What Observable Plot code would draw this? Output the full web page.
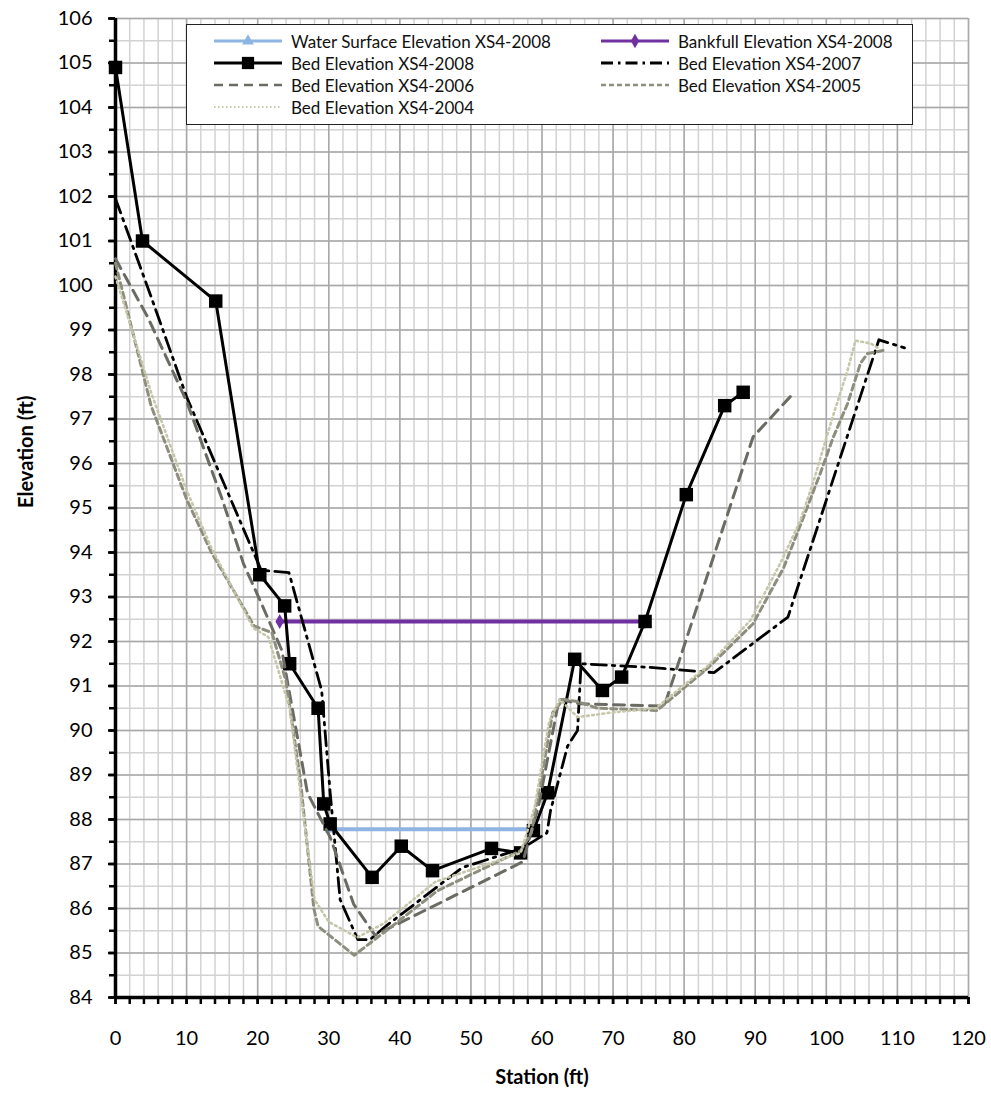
<!DOCTYPE html>
<html>
<head>
<meta charset="utf-8">
<script src="https://cdn.jsdelivr.net/npm/d3@7"></script>
<script src="https://cdn.jsdelivr.net/npm/@observablehq/plot@0.6"></script>
<style>
  body { margin: 0; background: #fff; }
  #wrap { position: relative; width: 991px; height: 1101px; }
  .legend {
    position: absolute; left: 186px; top: 24px; width: 727px; height: 101px;
    border: 1.5px solid #222; background: #fff; box-sizing: border-box;
    font-family: Lato, "Open Sans", sans-serif;
    font-size: 17px; color: #111;
  }
  .item { position: absolute; height: 20px; display: flex; align-items: center; white-space: nowrap; }
  .item svg { margin-right: 8px; }
</style>
</head>
<body>
<div id="wrap"><div id="chart"></div><div class="legend" id="legend"></div></div>
<script>
// Cross-section XS4: station (ft) vs. elevation (ft)
const waterSurface2008 = [[30.2, 87.78], [58.8, 87.78]];
const bankfull2008 = [[23.1, 92.45], [74.5, 92.45]];
const bed2008 = [[0, 104.9], [3.8, 101.0], [14.1, 99.65], [20.3, 93.5], [23.8, 92.8], [24.5, 91.5],
  [28.5, 90.5], [29.3, 88.35], [30.2, 87.9], [36.1, 86.7], [40.2, 87.4], [44.6, 86.85], [52.9, 87.35],
  [57.0, 87.25], [58.8, 87.75], [60.8, 88.6], [64.6, 91.6], [68.5, 90.9], [71.2, 91.2], [74.5, 92.45],
  [80.3, 95.3], [85.7, 97.3], [88.3, 97.6]];
const bed2007 = [[0, 101.95], [5, 99.75], [10, 97.5], [20.5, 93.6], [24.4, 93.55], [29.0, 90.9], [30.2, 88.6], [31.6, 86.2],
  [34.1, 85.3], [35.8, 85.3], [38.0, 85.6], [48.8, 86.92], [57.2, 87.35], [60.7, 87.7], [61.2, 88.2],
  [63.6, 89.65], [65.0, 90.0], [65.5, 91.5], [75.0, 91.42], [84.2, 91.3], [94.6, 92.55],
  [107.4, 98.78], [111.0, 98.6]];
const bed2006 = [[0, 100.6], [4.5, 99.3], [10, 97.4], [15, 95.2], [18, 93.75], [20.4, 92.9],
  [23.4, 91.8], [27.0, 88.6], [30.2, 87.6], [33.5, 86.1], [36.5, 85.4], [57.3, 87.05], [59.5, 88.3],
  [62.4, 90.7], [65.3, 90.6], [77.2, 90.55], [89.7, 96.6], [95.2, 97.55]];
const bed2005 = [[0, 100.5], [5, 97.3], [10, 95.2], [13.5, 94.0], [19.5, 92.35], [22, 92.2], [24, 91.1],
  [26, 88.9], [27.9, 86.0], [28.5, 85.6], [33.6, 84.95], [39.7, 85.7], [45.3, 86.4], [57, 87.3],
  [58.5, 87.7], [60, 89.0], [61.5, 90.4], [63, 90.7], [65, 90.65], [67.8, 90.5], [76.2, 90.45],
  [83.3, 91.4], [89.7, 92.4], [94, 93.66], [96.8, 94.8], [99.2, 95.8], [101, 96.6], [103, 97.35],
  [104.8, 98.25], [105.8, 98.47], [108.3, 98.55]];
const bed2004 = [[0, 100.2], [5, 97.6], [10, 95.4], [13.5, 94.1], [19.4, 92.3], [21.5, 92.1], [24.5, 90.5],
  [26.5, 88.0], [28, 86.2], [30, 85.7], [34, 85.35], [37.7, 85.66], [45, 86.6], [57, 87.25], [59, 88.3],
  [61, 90.2], [62.5, 90.7], [65, 90.3], [69.6, 90.4], [76, 90.5], [83.3, 91.45], [89.3, 92.47],
  [93.5, 93.75], [96.3, 94.7], [98.2, 95.6], [99.6, 96.36], [101, 97.1], [103, 98.1], [104.1, 98.76],
  [106.2, 98.7], [107.2, 98.6]];

const xTicks = d3.range(0, 121, 10);
const xMinor = d3.range(0, 121, 2);
const yTicks = d3.range(84, 107, 1);
const yMinor = d3.range(84, 106.01, 0.5);

const font = 'Lato, "Open Sans", sans-serif';
const px = d => d[0], py = d => d[1];

const chart = Plot.plot({
  width: 991,
  height: 1101,
  marginLeft: 115,
  marginRight: 23,
  marginTop: 18,
  marginBottom: 104,
  x: {domain: [0, 120]},
  y: {domain: [84, 106]},
  style: {fontFamily: font, fontSize: "20px", color: "#000", background: "#fff"},
  marks: [
    // grid: light every 2 ft / 0.5 ft, darker every 10 ft / 1 ft
    Plot.ruleX(xMinor, {stroke: "#d2d2d2", strokeWidth: 1.5}),
    Plot.ruleY(yMinor, {stroke: "#d2d2d2", strokeWidth: 1.5}),
    Plot.ruleX(xTicks, {stroke: "#a8a8a8", strokeWidth: 1.5}),
    Plot.ruleY(yTicks, {stroke: "#a8a8a8", strokeWidth: 1.5}),
    // axes
    Plot.axisY({ticks: yMinor, tickSize: 6, tickFormat: null, text: null, strokeWidth: 2.5}),
    Plot.axisY({ticks: yTicks, tickSize: 7, tickPadding: 16, tickFormat: d => d, strokeWidth: 2.5, label: null}),
    Plot.axisX({ticks: xMinor, tickSize: 7, text: null, strokeWidth: 2.5}),
    Plot.axisX({ticks: xTicks, tickSize: 7, tickPadding: 26, tickFormat: d => d, strokeWidth: 2.5, label: null}),
    Plot.ruleX([0], {stroke: "#000", strokeWidth: 3.5}),
    Plot.ruleY([84], {stroke: "#000", strokeWidth: 3.5}),
    Plot.text(["Elevation (ft)"], {frameAnchor: "left", dx: -89, rotate: -90, fontWeight: "bold", fontSize: 20}),
    Plot.text(["Station (ft)"], {frameAnchor: "bottom", dy: 86, fontWeight: "bold", fontSize: 20}),
    // series
    Plot.line(waterSurface2008, {x: px, y: py, stroke: "#8db4e2", strokeWidth: 4}),
    Plot.dot(waterSurface2008, {x: px, y: py, symbol: "triangle", r: 4, fill: "#8db4e2"}),
    Plot.line(bankfull2008, {x: px, y: py, stroke: "#7030a0", strokeWidth: 4}),
    Plot.dot(bankfull2008, {x: px, y: py, symbol: "diamond", r: 4.5, fill: "#7030a0"}),
    Plot.line(bed2008, {x: px, y: py, stroke: "#000", strokeWidth: 3}),
    Plot.dot(bed2008, {x: px, y: py, symbol: "square", r: 7.6, fill: "#000"}),
    Plot.line(bed2007, {x: px, y: py, stroke: "#000", strokeWidth: 2.8, strokeDasharray: "15,6,2.5,6"}),
    Plot.line(bed2006, {x: px, y: py, stroke: "#6b6b64", strokeWidth: 3, strokeDasharray: "11,7"}),
    Plot.line(bed2005, {x: px, y: py, stroke: "#8e8e7e", strokeWidth: 3, strokeDasharray: "6,4"}),
    Plot.line(bed2004, {x: px, y: py, stroke: "#c6c6aa", strokeWidth: 2.6, strokeDasharray: "1.8,3.4"})
  ]
});
document.getElementById("chart").append(chart);

// Legend box drawn over the upper part of the plot
const legendItems = [
  {label: "Water Surface Elevation XS4-2008", stroke: "#8db4e2", width: 3, dash: null, marker: "triangle", col: 0, row: 0},
  {label: "Bankfull Elevation XS4-2008", stroke: "#7030a0", width: 3, dash: null, marker: "diamond", col: 1, row: 0},
  {label: "Bed Elevation XS4-2008", stroke: "#000", width: 3, dash: null, marker: "square", col: 0, row: 1},
  {label: "Bed Elevation XS4-2007", stroke: "#000", width: 3, dash: "12,5,2.5,5", marker: null, col: 1, row: 1},
  {label: "Bed Elevation XS4-2006", stroke: "#6b6b64", width: 2.5, dash: "9,6", marker: null, col: 0, row: 2},
  {label: "Bed Elevation XS4-2005", stroke: "#8e8e7e", width: 2.5, dash: "5,3", marker: null, col: 1, row: 2},
  {label: "Bed Elevation XS4-2004", stroke: "#c6c6aa", width: 2.2, dash: "1.5,2.5", marker: null, col: 0, row: 3}
];
const legend = d3.select("#legend");
for (const it of legendItems) {
  const div = legend.append("div").attr("class", "item")
    .style("left", (it.col ? 413 : 26) + "px")
    .style("top", (6 + it.row * 22) + "px");
  const svg = div.append("svg").attr("width", 70).attr("height", 20);
  svg.append("line").attr("x1", 1).attr("x2", 69).attr("y1", 10).attr("y2", 10)
    .attr("stroke", it.stroke).attr("stroke-width", it.width)
    .attr("stroke-dasharray", it.dash);
  if (it.marker) {
    const sym = {triangle: d3.symbolTriangle, diamond: d3.symbolDiamond, square: d3.symbolSquare}[it.marker];
    const size = it.marker === "square" ? 150 : 60;
    svg.append("path").attr("transform", "translate(35,10)")
      .attr("d", d3.symbol(sym, size)()).attr("fill", it.stroke);
  }
  div.append("span").text(it.label);
}
</script>
</body>
</html>
